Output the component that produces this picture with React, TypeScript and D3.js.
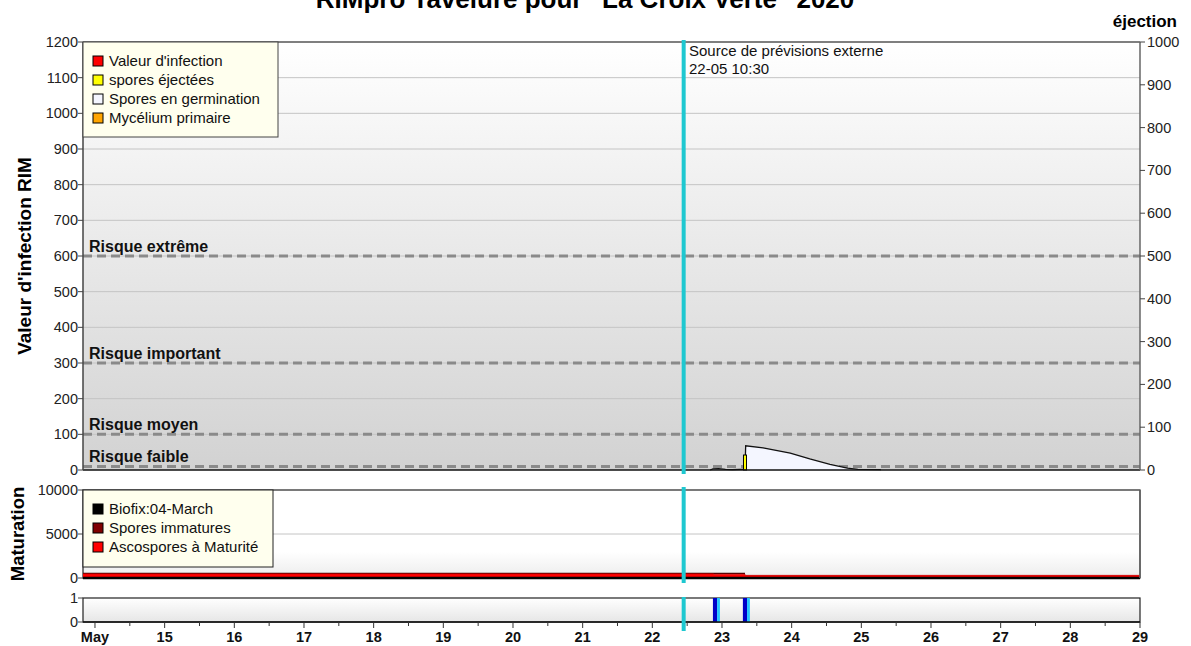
import React from 'react';
import * as d3 from 'd3';

// --- data (days of May 2020) ---
const dayTicks = [14, 15, 16, 17, 18, 19, 20, 21, 22, 23, 24, 25, 26, 27, 28, 29];
const leftTicks = [0, 100, 200, 300, 400, 500, 600, 700, 800, 900, 1000, 1100, 1200];
const rightTicks = [0, 100, 200, 300, 400, 500, 600, 700, 800, 900, 1000];
const matTicks = [0, 5000, 10000];
const wetTicks = [0, 1];

const riskLabels = ['Risque extrême', 'Risque important', 'Risque moyen', 'Risque faible'];
const riskValues = [600, 300, 100, 10];

const legendMain = ["Valeur d'infection", 'spores éjectées', 'Spores en germination', 'Mycélium primaire'];
const legendMainColors = ['#ff0000', '#ffff00', '#f4f6ff', '#ffa500'];
const legendMat = ['Biofix:04-March', 'Spores immatures', 'Ascospores à Maturité'];
const legendMatColors = ['#000000', '#800000', '#ff0000'];

// spores en germination (left scale)
const germTimes = [22.83, 22.87, 22.95, 23.05, 23.15, 23.25, 23.33, 23.34, 23.59, 23.98, 24.26, 24.55, 24.8, 24.95, 25.27, 25.28];
const germValues = [0, 3, 4, 2, 1, 2, 2, 68, 62, 47, 31, 16, 5, 1.5, 1, 0];

// spores éjectées (right scale)
const ejectTimes = [23.33];
const ejectValues = [35];

// maturation
const matTimes = [13.828, 22.88, 22.881, 23.33, 23.331, 29];
const matureValues = [480, 480, 430, 430, 300, 300];
const immatureTimes = [13.828, 23.33];
const immatureValues = [520, 520];

// humectation
const wetStart = [22.87, 23.3];
const wetEnd = [22.93, 23.36];
const wetLight = [22.97, 23.4];

const forecastTime = 22.45;

const FONT = '"Liberation Sans", Arial, sans-serif';

export default function App() {
  const x = d3.scaleLinear().domain([13.828, 29]).range([83, 1140]);
  const yL = d3.scaleLinear().domain([0, 1200]).range([470, 42]);
  const yR = d3.scaleLinear().domain([0, 1000]).range([470, 42]);
  const yM = d3.scaleLinear().domain([0, 10000]).range([578, 490]);
  const yW = d3.scaleLinear().domain([0, 1]).range([622, 598]);

  const [x0, x1] = x.range();

  const germArea = d3.area<number>()
    .x((_, i) => x(germTimes[i]))
    .y0(yL(0))
    .y1(d => yL(d));
  const germLine = d3.line<number>()
    .x((_, i) => x(germTimes[i]))
    .y(d => yL(d));

  const matArea = d3.area<number>()
    .x((_, i) => x(matTimes[i]))
    .y0(yM(0))
    .y1(d => yM(d));
  const matLine = d3.line<number>()
    .x((_, i) => x(matTimes[i]))
    .y(d => yM(d));
  const immLine = d3.line<number>()
    .x((_, i) => x(immatureTimes[i]))
    .y(d => yM(d));

  const minorTicks = d3.range(14.5, 29, 1);

  return (
    <svg width={1191} height={646} style={{ position: 'absolute', left: 0, top: 0, fontFamily: FONT }}>
      <defs>
        <linearGradient id="gMain" x1="0" y1="0" x2="0" y2="1">
          <stop offset="0" stopColor="#ffffff" />
          <stop offset="1" stopColor="#d2d2d2" />
        </linearGradient>
        <linearGradient id="gMat" x1="0" y1="0" x2="0" y2="1">
          <stop offset="0.7" stopColor="#ffffff" />
          <stop offset="1" stopColor="#ececec" />
        </linearGradient>
        <linearGradient id="gWet" x1="0" y1="0" x2="0" y2="1">
          <stop offset="0" stopColor="#ffffff" />
          <stop offset="1" stopColor="#e6e6e6" />
        </linearGradient>
      </defs>

      {/* title (clipped at top in the original) */}
      <text x={585} y={8} textAnchor="middle" fontSize={26} fontWeight="bold" fill="#000">
        RIMpro Tavelure pour "La Croix Verte" 2020
      </text>
      <text x={1177} y={27} textAnchor="end" fontSize={17} fontWeight="bold">éjection</text>

      {/* main panel */}
      <rect x={x0} y={yL(1200)} width={x1 - x0} height={yL(0) - yL(1200)} fill="url(#gMain)" />
      {leftTicks.filter(t => t > 0 && t < 1200).map(t => (
        <line key={t} x1={x0} x2={x1} y1={yL(t)} y2={yL(t)} stroke="#c4c4c4" strokeWidth={1} />
      ))}
      {riskValues.map((v, i) => (
        <g key={i}>
          <line x1={x0} x2={x1} y1={yL(v)} y2={yL(v)} stroke="#8a8a8a" strokeWidth={3} strokeDasharray="9,5" />
          <text x={89} y={yL(v) - 4} fontSize={16} fontWeight="bold" fill="#111">{riskLabels[i]}</text>
        </g>
      ))}

      <path d={germArea(germValues) || ''} fill="#f4f6ff" />
      <path d={germLine(germValues) || ''} fill="none" stroke="#111" strokeWidth={1.3} />
      {ejectTimes.map((t, i) => (
        <rect key={i} x={x(t) - 1.5} y={yR(ejectValues[i])} width={3} height={yR(0) - yR(ejectValues[i])}
          fill="#ffff00" stroke="#000" strokeWidth={1} />
      ))}

      <line x1={x0} x2={x1} y1={yL(1200)} y2={yL(1200)} stroke="#555" strokeWidth={1.5} />
      <line x1={x0} x2={x1} y1={yL(0)} y2={yL(0)} stroke="#111" strokeWidth={1.5} />
      <line x1={x0} x2={x0} y1={yL(1200)} y2={yL(0)} stroke="#444" strokeWidth={1.5} />
      <line x1={x1} x2={x1} y1={yL(1200)} y2={yL(0)} stroke="#666" strokeWidth={1.5} />
      {leftTicks.map(t => (
        <g key={t}>
          <line x1={x0 - 5} x2={x0} y1={yL(t)} y2={yL(t)} stroke="#444" />
          <text x={x0 - 5} y={yL(t) + 5} textAnchor="end" fontSize={14.5} fill="#222">{t}</text>
        </g>
      ))}
      {rightTicks.map(t => (
        <g key={t}>
          <line x1={x1} x2={x1 + 5} y1={yR(t)} y2={yR(t)} stroke="#444" />
          <text x={x1 + 7} y={yR(t) + 5} fontSize={14.5} fill="#222">{t}</text>
        </g>
      ))}
      <text transform={`translate(31,${yL(600)}) rotate(-90)`} textAnchor="middle" fontSize={19} fontWeight="bold">
        Valeur d'infection RIM
      </text>

      {/* main legend */}
      <rect x={x0} y={yL(1200)} width={195} height={95} fill="#ffffee" stroke="#444" strokeWidth={1} />
      {legendMain.map((l, i) => (
        <g key={l}>
          <rect x={93} y={56 + i * 19} width={10} height={10} fill={legendMainColors[i]} stroke="#000" strokeWidth={1} />
          <text x={109} y={66 + i * 19} fontSize={15} fill="#111">{l}</text>
        </g>
      ))}

      {/* forecast */}
      <text x={689} y={56} fontSize={15} fill="#111">Source de prévisions externe</text>
      <text x={689} y={74} fontSize={15} fill="#111">22-05 10:30</text>

      {/* maturation panel */}
      <rect x={x0} y={yM(10000)} width={x1 - x0} height={yM(0) - yM(10000)} fill="url(#gMat)" stroke="#222" strokeWidth={1.2} />
      <line x1={x0} x2={x1} y1={yM(5000)} y2={yM(5000)} stroke="#c4c4c4" />
      <path d={matArea(matureValues) || ''} fill="#ff0000" />
      <path d={immLine(immatureValues) || ''} fill="none" stroke="#3a0000" strokeWidth={1.2} />
      <path d={matLine(matureValues) || ''} fill="none" stroke="#cc0000" strokeWidth={0.8} />
      <line x1={x0} x2={x1} y1={yM(0)} y2={yM(0)} stroke="#000" strokeWidth={2.5} />
      <line x1={x1} x2={x1} y1={yM(10000)} y2={yM(0)} stroke="#666" strokeWidth={1.5} />
      {matTicks.map(t => (
        <g key={t}>
          <line x1={x0 - 5} x2={x0} y1={yM(t)} y2={yM(t)} stroke="#444" />
          <text x={x0 - 5} y={yM(t) + 5} textAnchor="end" fontSize={14.5} fill="#222">{t}</text>
        </g>
      ))}
      <text transform={`translate(24,${yM(5000)}) rotate(-90)`} textAnchor="middle" fontSize={18.5} fontWeight="bold">
        Maturation
      </text>
      <rect x={x0} y={yM(10000)} width={190} height={77} fill="#ffffee" stroke="#222" strokeWidth={1} />
      {legendMat.map((l, i) => (
        <g key={l}>
          <rect x={93} y={504 + i * 19} width={10} height={10} fill={legendMatColors[i]} stroke="#000" strokeWidth={1} />
          <text x={109} y={514 + i * 19} fontSize={15} fill="#111">{l}</text>
        </g>
      ))}

      {/* wetness panel */}
      <rect x={x0} y={yW(1)} width={x1 - x0} height={yW(0) - yW(1)} fill="url(#gWet)" stroke="#222" strokeWidth={1.2} />
      {wetStart.map((s, i) => (
        <g key={i}>
          <rect x={x(s)} y={yW(1)} width={x(wetEnd[i]) - x(s)} height={yW(0) - yW(1)} fill="#0000c8" />
          <rect x={x(wetEnd[i])} y={yW(1)} width={x(wetLight[i]) - x(wetEnd[i])} height={yW(0) - yW(1)} fill="#22c4ff" />
        </g>
      ))}
      <line x1={x0} x2={x1} y1={yW(0)} y2={yW(0)} stroke="#111" strokeWidth={1.5} />
      {wetTicks.map(t => (
        <g key={t}>
          <line x1={x0 - 5} x2={x0} y1={yW(t)} y2={yW(t)} stroke="#444" />
          <text x={x0 - 5} y={yW(t) + 5} textAnchor="end" fontSize={14.5} fill="#222">{t}</text>
        </g>
      ))}

      {/* x axis */}
      {dayTicks.map(d => (
        <g key={d}>
          <line x1={x(d)} x2={x(d)} y1={yW(0)} y2={yW(0) + 6} stroke="#333" />
          <text x={x(d)} y={642} textAnchor="middle" fontSize={14.5} fontWeight="bold" fill="#111">
            {d === 14 ? 'May' : d}
          </text>
        </g>
      ))}
      {minorTicks.map(d => (
        <line key={d} x1={x(d)} x2={x(d)} y1={yW(0)} y2={yW(0) + 4} stroke="#333" />
      ))}

      {/* forecast line */}
      {[[40, 474], [487, 583], [597, 631]].map(([a, b], i) => (
        <line key={i} x1={x(forecastTime)} x2={x(forecastTime)} y1={a} y2={b} stroke="#1ec8d0" strokeWidth={4} />
      ))}
    </svg>
  );
}
